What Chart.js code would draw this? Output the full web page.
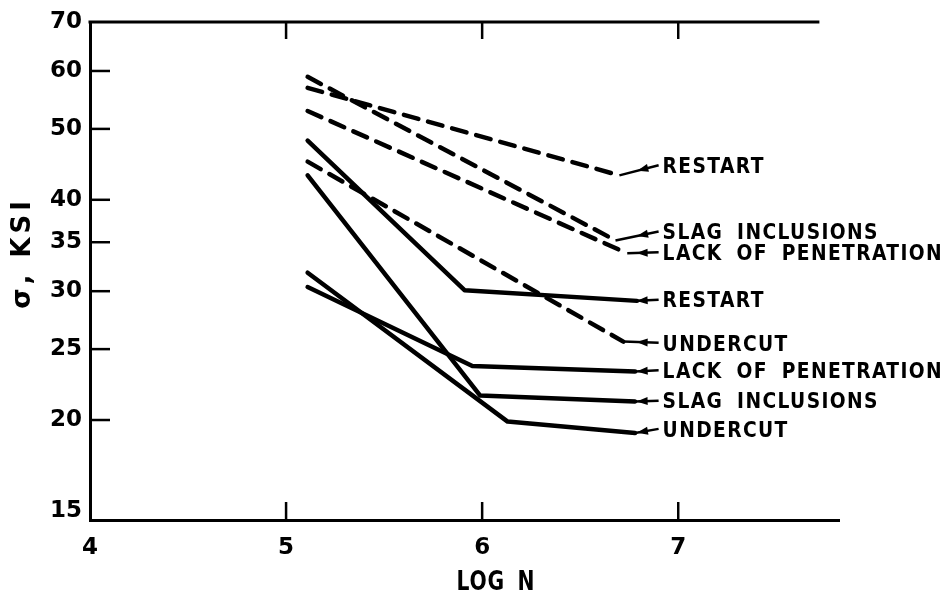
<!DOCTYPE html>
<html>
<head>
<meta charset="utf-8">
<script src="https://cdn.jsdelivr.net/npm/chart.js@4.4.0/dist/chart.umd.min.js"></script>
<style>
	html, body { margin: 0; padding: 0; background: #fff; }
</style>
</head>
<body>
<canvas id="chart" width="947" height="597"></canvas>
<script>
// Типы дефектов (одинаковые для сплошных и штриховых кривых)
const seriesNames = ['RESTART', 'SLAG INCLUSIONS', 'LACK OF PENETRATION', 'UNDERCUT']

// Штриховые кривые: начало и конец
const dashedLogN = [[5.11, 6.70], [5.11, 6.68], [5.11, 6.74], [5.11, 6.72]]
const dashedStress = [[56.9, 43.2], [58.9, 35.2], [52.9, 33.8], [45.1, 25.6]]

// Сплошные кривые: начало, излом, конец
const solidLogN = [[5.11, 5.91, 6.79], [5.11, 5.99, 6.78], [5.11, 5.95, 6.78], [5.11, 6.13, 6.78]]
const solidStress = [[48.2, 30.1, 29.1], [43.2, 21.6, 21.2], [30.4, 23.7, 23.3], [31.8, 19.9, 19.2]]

// Уровни подписей справа (в ksi)
const dashedLabelStress = [44.6, 36.2, 33.9, 25.5]
const solidLabelStress = [29.2, 21.25, 23.4, 19.45]

const xTicks = [4, 5, 6, 7]
const yTicks = [15, 20, 25, 30, 35, 40, 50, 60, 70]

const FONT = "'DejaVu Sans', sans-serif"

const datasets = []
seriesNames.forEach((name, i) => {
	datasets.push({
		label: name + ' (dashed)',
		data: dashedLogN[i].map((x, j) => ({ x, y: dashedStress[i][j] })),
		borderColor: '#000',
		borderWidth: 4.5,
		borderDash: [15, 10],
		borderCapStyle: 'round',
		pointRadius: 0,
		fill: false,
		tension: 0
	})
	datasets.push({
		label: name,
		data: solidLogN[i].map((x, j) => ({ x, y: solidStress[i][j] })),
		borderColor: '#000',
		borderWidth: 4.5,
		borderCapStyle: 'round',
		borderJoinStyle: 'round',
		pointRadius: 0,
		fill: false,
		tension: 0
	})
})

// Рамка, внутренние риски, подписи осей и стрелки с названиями
const decorPlugin = {
	id: 'decor',
	afterDatasetsDraw(chart) {
		const { ctx, chartArea: area, scales: { x, y } } = chart
		const line = (x1, y1, x2, y2) => {
			ctx.beginPath()
			ctx.moveTo(x1, y1)
			ctx.lineTo(x2, y2)
			ctx.stroke()
		}
		ctx.save()
		ctx.strokeStyle = '#000'
		ctx.fillStyle = '#000'
		ctx.lineCap = 'butt'

		// верхняя линия рамки
		ctx.lineWidth = 3
		line(area.left - 1.5, area.top, x.getPixelForValue(7.72), area.top)

		// риски внутрь
		ctx.lineWidth = 2.5
		xTicks.slice(1).forEach(v => {
			const px = x.getPixelForValue(v)
			line(px, area.bottom, px, area.bottom - 18)
			line(px, area.top, px, area.top + 17)
		})
		yTicks.slice(1, -1).forEach(v => {
			const py = y.getPixelForValue(v)
			line(area.left, py, area.left + 20, py)
		})

		// подписи осей
		ctx.font = 'bold 26px ' + FONT
		ctx.letterSpacing = '1px'
		ctx.wordSpacing = '6px'
		ctx.textAlign = 'center'
		ctx.textBaseline = 'middle'
		ctx.save()
		ctx.translate(x.getPixelForValue(6.07), 583)
		ctx.scale(0.78, 1)
		ctx.fillText('LOG N', 0, 0)
		ctx.restore()

		ctx.save()
		ctx.translate(23, 253)
		ctx.rotate(-Math.PI / 2)
		ctx.font = 'bold 26px ' + FONT
		ctx.letterSpacing = '4px'
		ctx.wordSpacing = '0px'
		ctx.fillText('σ, KSI', 0, 0)
		ctx.restore()

		// стрелки и названия
		const labelX = x.getPixelForValue(6.9)
		const drawLabel = (text, labelStress, endX, endY) => {
			const ly = y.getPixelForValue(labelStress)
			const ex = x.getPixelForValue(endX)
			const ey = y.getPixelForValue(endY)
			ctx.lineWidth = 2.5
			line(labelX, ly, ex, ey)
			// наконечник стрелки в 22 px от подписи
			const dx = ex - labelX, dy = ey - ly
			const len = Math.hypot(dx, dy)
			const ux = dx / len, uy = dy / len
			const tx = labelX + ux * 22, ty = ly + uy * 22
			ctx.beginPath()
			ctx.moveTo(tx, ty)
			ctx.lineTo(tx - ux * 11 - uy * 4, ty - uy * 11 + ux * 4)
			ctx.lineTo(tx - ux * 11 + uy * 4, ty - uy * 11 - ux * 4)
			ctx.closePath()
			ctx.fill()

			ctx.save()
			ctx.translate(labelX + 4, ly + 2)
			ctx.scale(0.85, 1)
			ctx.font = 'bold 22px ' + FONT
			ctx.letterSpacing = '1.6px'
			ctx.wordSpacing = '7px'
			ctx.textAlign = 'left'
			ctx.textBaseline = 'middle'
			ctx.fillText(text, 0, 0)
			ctx.restore()
		}
		seriesNames.forEach((name, i) => {
			const n = dashedLogN[i].length - 1
			drawLabel(name, dashedLabelStress[i], dashedLogN[i][n], dashedStress[i][n])
			const m = solidLogN[i].length - 1
			drawLabel(name, solidLabelStress[i], solidLogN[i][m], solidStress[i][m])
		})
		ctx.restore()
	}
}

new Chart(document.getElementById('chart'), {
	type: 'line',
	data: { datasets },
	options: {
		responsive: false,
		animation: false,
		layout: { padding: { top: 22, right: 108, left: 0, bottom: 0 } },
		plugins: {
			legend: { display: false },
			tooltip: { enabled: false }
		},
		scales: {
			x: {
				type: 'linear',
				min: 4,
				max: 7.82,
				afterBuildTicks: scale => { scale.ticks = xTicks.map(v => ({ value: v })) },
				afterFit: scale => { scale.height = 77 },
				grid: { display: false, drawTicks: false },
				border: { display: true, color: '#000', width: 3 },
				ticks: {
					color: '#000',
					padding: 14,
					maxRotation: 0,
					font: { family: FONT, size: 23, weight: 'bold' },
					callback: v => String(v)
				}
			},
			y: {
				type: 'logarithmic',
				min: 14.6,
				max: 70,
				afterBuildTicks: scale => { scale.ticks = yTicks.map(v => ({ value: v })) },
				afterFit: scale => { scale.width = 90 },
				grid: { display: false, drawTicks: false },
				border: { display: true, color: '#000', width: 3 },
				ticks: {
					color: '#000',
					padding: 8,
					font: { family: FONT, size: 23, weight: 'bold' },
					callback: v => String(v)
				}
			}
		}
	},
	plugins: [decorPlugin]
})
</script>
</body>
</html>
